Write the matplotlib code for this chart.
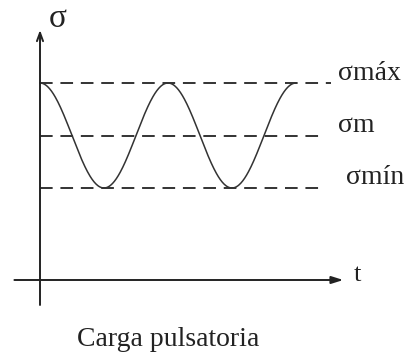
import matplotlib.pyplot as plt
import numpy as np

plt.rcParams['font.family'] = ['Liberation Serif', 'DejaVu Serif']

# stress levels (arbitrary units) and load period
sigma_max = 1.97
sigma_min = 0.92
sigma_m = (sigma_max + sigma_min) / 2
period = 1.0
n_cycles = 2

level_names = ['σmáx', 'σm', 'σmín']
level_values = [sigma_max, sigma_m, sigma_min]
level_ends = [2.27, 2.20, 2.19]

fig = plt.figure(figsize=(4.09, 3.58), dpi=100)
ax = fig.add_axes([0, 0, 1, 1])
ax.set_xlim(-0.3125, 2.883)
ax.set_ylim(-0.78, 2.80)
ax.axis('off')

# axes with arrows
ax.annotate('', xy=(2.37, 0), xytext=(-0.2, 0),
            arrowprops=dict(arrowstyle='-|>,head_length=0.7,head_width=0.22',
                            lw=1.4, color='#222222', shrinkA=0, shrinkB=0))
ax.annotate('', xy=(0, 2.5), xytext=(0, -0.25),
            arrowprops=dict(arrowstyle='->,head_length=0.6,head_width=0.22',
                            lw=1.4, color='#222222', shrinkA=0, shrinkB=0))

# reference levels
for name, val, end in zip(level_names, level_values, level_ends):
    ax.plot([0, end], [val, val], color='#333333', lw=1.4,
            linestyle=(0, (6.5, 4)))

label_pos = {'σmáx': (2.33, sigma_max + 0.09),
             'σm': (2.33, sigma_m + 0.10),
             'σmín': (2.39, sigma_min + 0.11)}
for name in level_names:
    x, y = label_pos[name]
    ax.text(x, y, name, fontsize=20, ha='left', va='center', color='#222222')

# pulsating load
t = np.linspace(0, n_cycles * period, 400)
amp = (sigma_max - sigma_min) / 2
ax.plot(t, sigma_m + amp * np.cos(2 * np.pi * t / period),
        color='#333333', lw=1.1)

ax.text(0.14, 2.61, 'σ', fontsize=24, ha='center', va='center', color='#222222')
ax.text(2.48, 0.05, 't', fontsize=19, ha='center', va='center', color='#222222')
ax.text(1.0, -0.60, 'Carga pulsatoria', fontsize=20, ha='center',
        va='center', color='#222222')

fig.savefig('out.png', dpi=100)
